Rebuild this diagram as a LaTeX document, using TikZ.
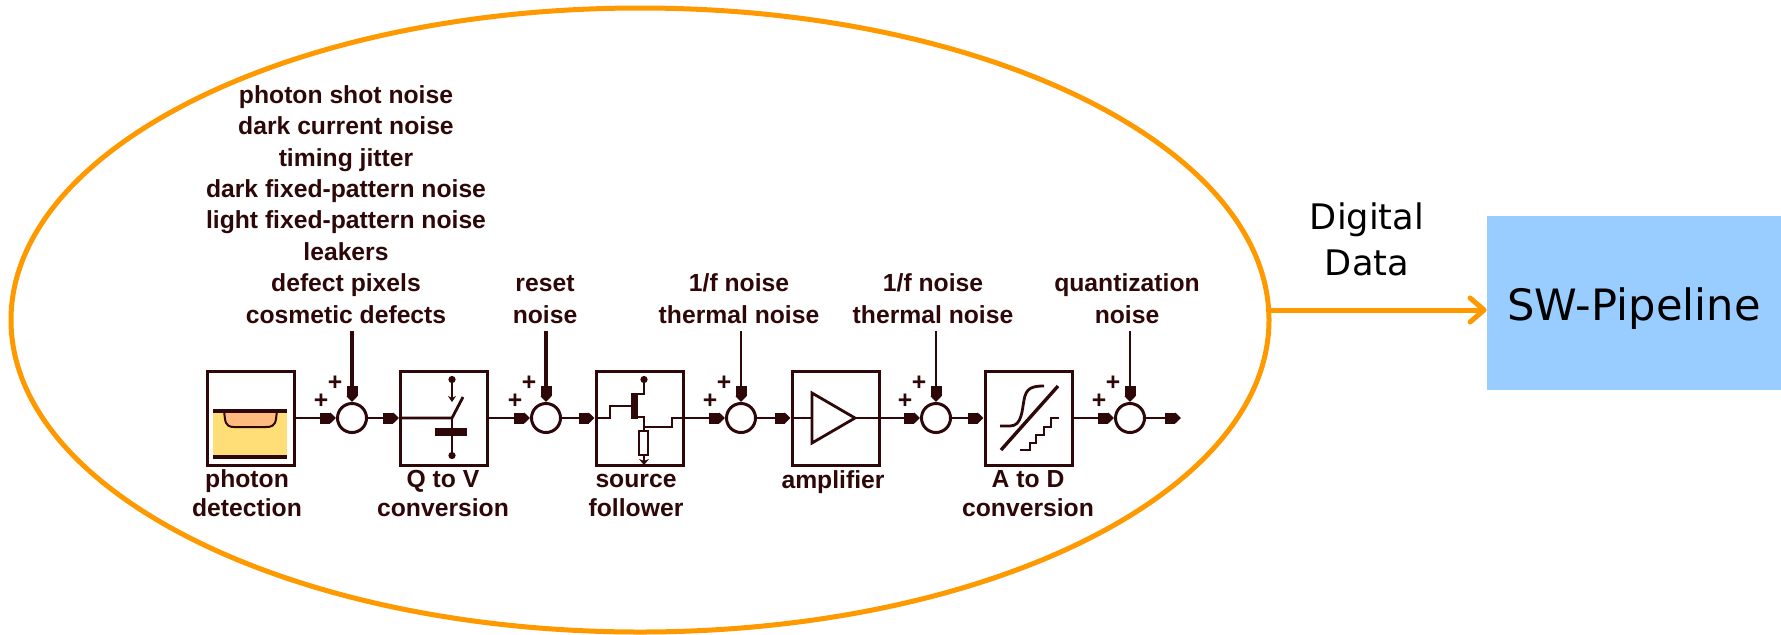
\documentclass[tikz,border=0pt]{standalone}
\usepackage{fontspec}
\usepackage{tikz}
\usetikzlibrary{calc,arrows.meta,shapes.geometric}
\newfontfamily\blockfont{Liberation Sans}
\newfontfamily\slidefont{DejaVu Sans}
\definecolor{blockink}{HTML}{2E0808}
\definecolor{sensororange}{HTML}{FF9900}
\definecolor{pipeblue}{HTML}{99CCFF}
\definecolor{welltan}{HTML}{FFBB7F}
\definecolor{bulkyellow}{HTML}{FFDD77}
\tikzset{
  blockbox/.style={draw=blockink, line width=1.5pt, minimum width=43.5pt, minimum height=47pt, inner sep=0pt},
  sumdot/.style={draw=blockink, line width=1.5pt, circle, minimum size=14.5pt, inner sep=0pt},
  sigline/.style={draw=blockink, line width=1.4pt},
  sigarrow/.style={sigline, -{Rectangle[length=5pt,width=5.5pt] Triangle[length=3pt,width=5.5pt]}},
  thinpart/.style={draw=blockink, line width=1pt},
  toptext/.style={blockink, anchor=base, align=center, inner sep=0pt, font=\blockfont\bfseries\fontsize{12.35pt}{15.7pt}\selectfont},
  bottext/.style={blockink, anchor=base, align=center, inner sep=0pt, font=\blockfont\bfseries\fontsize{12.35pt}{14.1pt}\selectfont},
  plusmark/.style={blockink, inner sep=0pt, font=\blockfont\bfseries\fontsize{12.35pt}{14pt}\selectfont},
  sensorline/.style={draw=sensororange, line width=2.5pt},
  slidetext/.style={black, align=center, inner sep=0pt, font=\slidefont\fontsize{17.6pt}{23pt}\selectfont}
}

\begin{document}
\begin{tikzpicture}[x=0.5pt,y=-0.5pt]
  \useasboundingbox (0,0) rectangle (1781,634);
  % sensor outline and pipeline
  \node[sensorline, ellipse, minimum width=629pt, minimum height=312pt, inner sep=0pt] (sensor) at (640,320) {};
  \node[fill=pipeblue, minimum width=147pt, minimum height=87pt, inner sep=0pt, text height=17pt, text depth=0pt, font=\slidefont\fontsize{21.6pt}{25pt}\selectfont] (pipe) at (1634,303) {SW-Pipeline};
  \coordinate (out) at (1268,310);
  \draw[sensorline, line cap=round, -{Straight Barb[length=7pt,width=12pt,round]}] (out) -- (out -| pipe.west);
  \node[slidetext] (digital) at (1367,239) {Digital\\Data};

  % blocks
  \node[blockbox] (photon) at (251,418) {};
  \node[blockbox] (qtov) at (444,418) {};
  \node[blockbox] (follower) at (639.5,418) {};
  \node[blockbox] (amp) at (835.5,418) {};
  \node[blockbox] (adc) at (1028.5,418) {};
  \node[sumdot] (c1) at (352,418) {};
  \node[sumdot] (c2) at (546,418) {};
  \node[sumdot] (c3) at (741,418) {};
  \node[sumdot] (c4) at (936,418) {};
  \node[sumdot] (c5) at (1130,418) {};
  \coordinate (end) at (1181,418);
  \foreach \a/\b in {photon/c1,c1/qtov,qtov/c2,c2/follower,follower/c3,c3/amp,amp/c4,c4/adc,adc/c5,c5/end}
    \draw[sigarrow] (\a) -- (\b);
  \foreach \n in {1,...,5} {
    \node[plusmark] (plusa\n) at ($(c\n)+(-31,-17)$) {+};
    \node[plusmark] (plusb\n) at ($(c\n)+(-17,-35)$) {+};
  }

  % noise sources
  \node[toptext] (shot) at (346,323) {photon shot noise\\dark current noise\\timing jitter\\dark fixed-pattern noise\\light fixed-pattern noise\\leakers\\defect pixels\\cosmetic defects};
  \node[toptext] (reset) at (545,323) {reset\\noise};
  \node[toptext] (oneftwo) at (739,323) {1/f noise\\thermal noise};
  \node[toptext] (onefthree) at (933,323) {1/f noise\\thermal noise};
  \node[toptext] (quant) at (1127,323) {quantization\\noise};
  \coordinate (n1) at (352,331);
  \coordinate (n2) at (546,331);
  \coordinate (n3) at (741,331);
  \coordinate (n4) at (936,331);
  \coordinate (n5) at (1130,331);
  \draw[sigarrow, line width=2.2pt] (n1) -- (c1);
  \draw[sigarrow, line width=1.8pt] (n2) -- (c2);
  \foreach \n in {3,4,5}
    \draw[sigarrow] (n\n) -- (c\n);

  % block names
  \node[bottext] (photonname) at (247,516) {photon\\detection};
  \node[bottext] (qtovname) at (443,516) {Q to V\\conversion};
  \node[bottext] (followername) at (636,516) {source\\follower};
  \node[bottext] (ampname) at (833,488) {amplifier};
  \node[bottext] (adcname) at (1028,516) {A to D\\conversion};

  % photon detection
  \fill[bulkyellow] (213,411) rectangle (287,457);
  \draw[thinpart, fill=welltan] (224,411) -- (225,419) .. controls (226,426) and (230,427) .. (234,427) -- (266,427) .. controls (271,427) and (275,426) .. (276,419) -- (277,411);
  \draw[draw=blockink, line width=1.6pt] (213,411) -- (287,411);
  \draw[draw=blockink, line width=1.6pt] (213,457) -- (287,457);

  % Q to V
  \draw[sigline] (qtov.west) -- (452,418) -- (463,397);
  \draw[sigline, {Circle[length=3.5pt]}-{Stealth[length=3pt,width=4pt]}] (452,376) -- (452,402);
  \fill[blockink] (435,428) rectangle (467,436);
  \draw[sigline] (452,418) -- (452,428);
  \draw[sigline, -{Circle[length=3.5pt]}] (452,436) -- (452,459);

  % source follower
  \draw[sigline] (follower.west) -- (610,418) -- (610,406) -- (632,406);
  \fill[blockink] (631,393) rectangle (638,419);
  \draw[sigline, -{Circle[length=3.5pt]}] (638,394) -- (644,394) -- (644,376);
  \draw[sigline] (638,417) -- (644,417) -- (644,427) -- (672,427) -- (672,418) -- (follower.east);
  \draw[sigline] (644,427) -- (644,431);
  \draw[sigline, fill=white] (639,431) rectangle (648,455);
  \draw[sigline, -{Stealth[length=3pt,width=5pt]}] (644,455) -- (644,465);

  % amplifier
  \draw[sigline] (amp.west) -- (812,418);
  \draw[sigline] (855,418) -- (amp.east);
  \draw[sigline, line join=miter] (812,393) -- (855,418) -- (812,443) -- cycle;

  % A to D
  \draw[sigline] (1000,426) -- (1010,426) .. controls (1022,426) and (1022,410) .. (1024,400) .. controls (1026,388) and (1032,386) .. (1044,386);
  \draw[draw=blockink, line width=1.7pt] (1001,450) -- (1058,386);
  \draw[thinpart] (1020,450) -- (1030,450) -- (1030,443) -- (1036,443) -- (1036,435) -- (1044,435) -- (1044,427) -- (1051,427) -- (1051,418) -- (1059,418);
\end{tikzpicture}
\end{document}
